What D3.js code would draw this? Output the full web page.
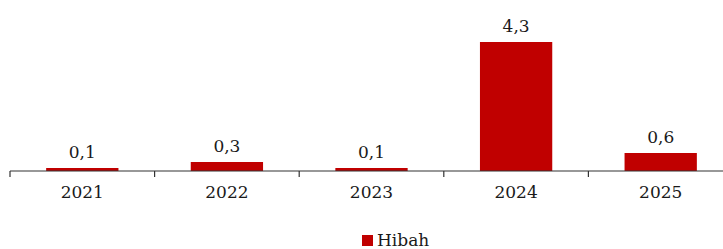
<!DOCTYPE html>
<html>
<head>
<meta charset="utf-8">
<script src="https://cdn.jsdelivr.net/npm/d3@7"></script>
<style>
  body { margin: 0; background: #fff; }
  text { font-family: "DejaVu Serif", Georgia, serif; fill: #1a1a1a; }
</style>
</head>
<body>
<svg id="chart"></svg>
<script>
const years = ["2021", "2022", "2023", "2024", "2025"];
const hibah = [0.1, 0.3, 0.1, 4.3, 0.6];
const seriesName = "Hibah";

const width = 723;
const height = 249;
const baseY = 171;

const svg = d3.select("#chart")
  .attr("width", width)
  .attr("height", height);

const x = d3.scaleBand()
  .domain(years)
  .range([10, 733])
  .paddingInner(0.5)
  .paddingOuter(0.25);

const y = d3.scaleLinear()
  .domain([0, 4.3])
  .range([baseY, 42]);

const fmt = d => d3.format(".1f")(d).replace(".", ",");

svg.selectAll("rect.bar")
  .data(hibah)
  .enter()
  .append("rect")
  .attr("class", "bar")
  .attr("x", (d, i) => x(years[i]))
  .attr("y", d => y(d))
  .attr("width", x.bandwidth())
  .attr("height", d => baseY - y(d))
  .attr("fill", "#C00000");

svg.selectAll("text.val")
  .data(hibah)
  .enter()
  .append("text")
  .attr("class", "val")
  .attr("x", (d, i) => x(years[i]) + x.bandwidth() / 2)
  .attr("y", d => y(d) - 10)
  .attr("text-anchor", "middle")
  .style("font-size", "17px")
  .text(d => fmt(d));

// axis line with ticks at category boundaries
const step = x.step();
const bounds = d3.range(years.length + 1).map(i => 10 + i * step);
svg.append("line")
  .attr("x1", 10).attr("x2", width)
  .attr("y1", baseY).attr("y2", baseY)
  .attr("stroke", "#333").attr("stroke-width", 1.2);
svg.selectAll("line.tick")
  .data(bounds)
  .enter()
  .append("line")
  .attr("class", "tick")
  .attr("x1", d => d).attr("x2", d => d)
  .attr("y1", baseY).attr("y2", baseY + 6)
  .attr("stroke", "#333").attr("stroke-width", 1.2);

svg.selectAll("text.cat")
  .data(years)
  .enter()
  .append("text")
  .attr("class", "cat")
  .attr("x", d => x(d) + x.bandwidth() / 2)
  .attr("y", 198)
  .attr("text-anchor", "middle")
  .style("font-size", "17px")
  .text(d => d);

// legend
const leg = svg.append("g").attr("transform", "translate(362,235)");
leg.append("rect").attr("width", 11).attr("height", 11).attr("fill", "#C00000");
leg.append("text")
  .attr("x", 15).attr("y", 11)
  .style("font-size", "17px")
  .text(seriesName);
</script>
</body>
</html>
